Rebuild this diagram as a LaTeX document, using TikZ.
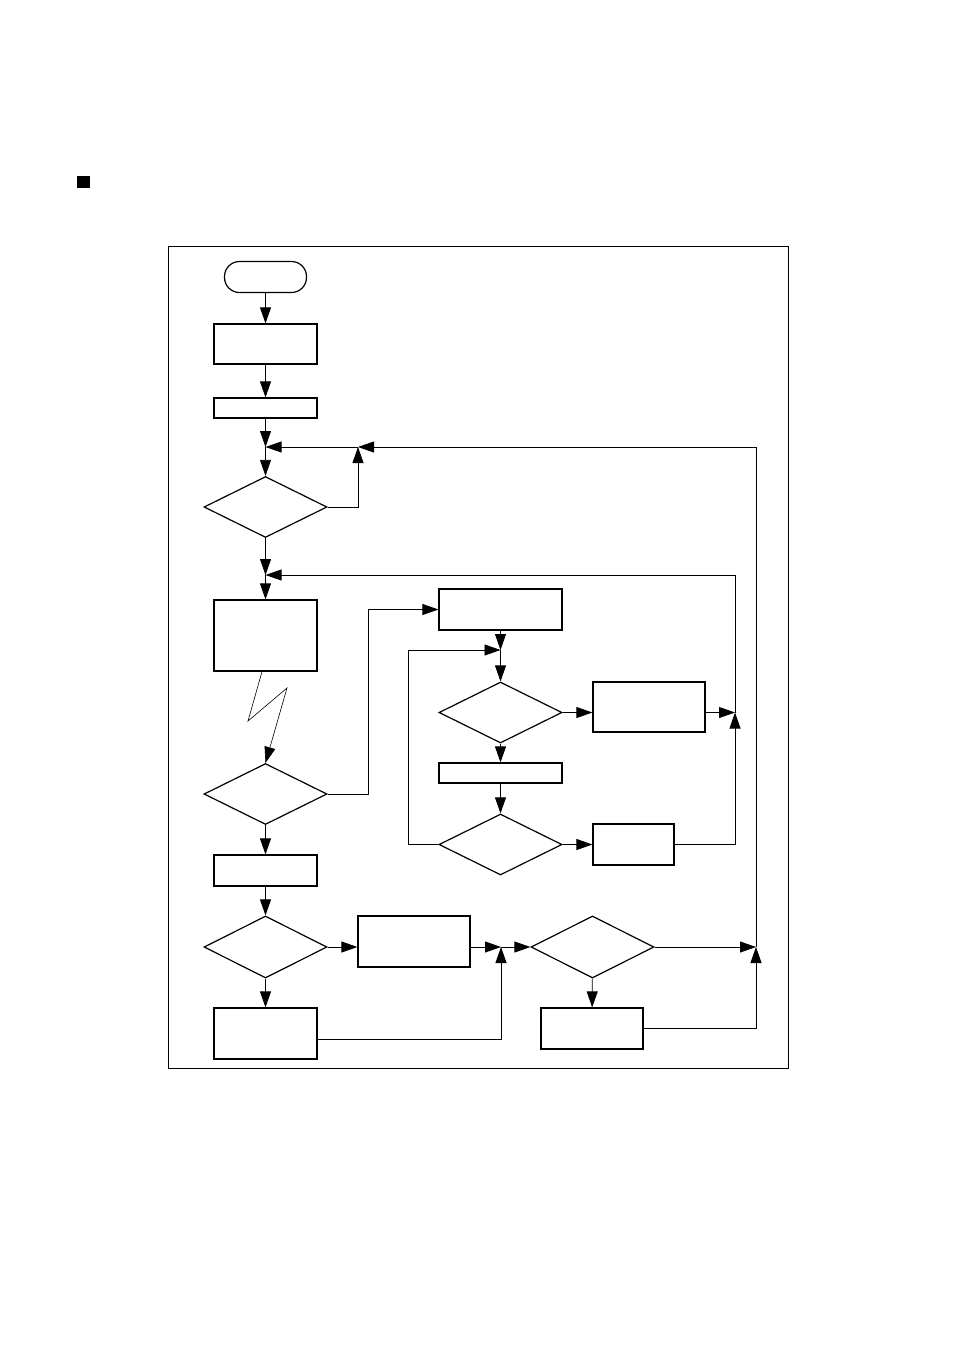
\documentclass[tikz,border=0pt]{standalone}
\usetikzlibrary{shapes.geometric,arrows.meta}
\begin{document}
\begin{tikzpicture}[x=1pt, y=-1pt, >={Triangle[length=16pt,width=11pt]},
    box/.style={draw, line width=1.2pt, inner sep=0pt},
    decision/.style={draw, diamond, line width=1.2pt, inner sep=0pt, minimum width=123pt, minimum height=61pt},
    every path/.style={line width=0.8pt}]
  \useasboundingbox (0,0) rectangle (954,1350);
  \fill (77,176) rectangle (90,188);
  \draw (168,246) rectangle (788,1068);
  \node[box, rounded corners=15pt, minimum width=82pt, minimum height=31pt] (start) at (265.5,277) {};
  \node[box, minimum width=103pt, minimum height=40pt] (init) at (265.5,344) {};
  \node[box, minimum width=103pt, minimum height=20pt] (clear) at (265.5,408) {};
  \node[decision] (wait) at (265.5,507) {};
  \node[box, minimum width=103pt, minimum height=71pt] (task) at (265.5,635.5) {};
  \node[decision] (intr) at (265.5,794) {};
  \node[box, minimum width=123pt, minimum height=41pt] (isr) at (500.5,609.5) {};
  \node[decision] (chka) at (500.5,712.5) {};
  \node[box, minimum width=112pt, minimum height=50pt] (proca) at (649,707) {};
  \node[box, minimum width=123pt, minimum height=20pt] (next) at (500.5,773) {};
  \node[decision] (chkb) at (500.5,844.5) {};
  \node[box, minimum width=81pt, minimum height=41pt] (procb) at (633.5,844.5) {};
  \node[box, minimum width=103pt, minimum height=31pt] (read) at (265.5,870.5) {};
  \node[decision, minimum height=62pt] (chkc) at (265.5,947) {};
  \node[box, minimum width=112pt, minimum height=51pt] (procc) at (414,941.5) {};
  \node[box, minimum width=103pt, minimum height=51pt] (procd) at (265.5,1033.5) {};
  \node[decision, minimum height=62pt] (chkd) at (592.5,947) {};
  \node[box, minimum width=102pt, minimum height=41pt] (proce) at (592,1028.5) {};
  \coordinate (j1) at (265.5,447);
  \coordinate (j2) at (358,447);
  \coordinate (r1) at (756,447);
  \coordinate (j3) at (265.5,575);
  \coordinate (j4) at (500.5,650);
  \coordinate (l2) at (408,844.5);
  \coordinate (j5) at (735,712.5);
  \coordinate (j6) at (501,947);
  \coordinate (j7) at (756,947);
  \coordinate (k1) at (368,794);
  \coordinate (k2) at (501,1039);
  \coordinate (z1) at (248,721);
  \coordinate (z2) at (287,688);
  \draw[->] (start) -- (init);
  \draw[->] (init) -- (clear);
  \draw[->] (clear) -- (j1);
  \draw[->] (j1) -- (wait);
  \draw[->] (wait.east) -| (j2);
  \draw[->] (j2) -- (j1);
  \draw[->] (r1) -- (j2);
  \draw (j7) -- (r1);
  \draw[->] (wait) -- (j3);
  \draw[->] (j3) -- (task);
  \draw[->, line width=0.6pt] ([xshift=-3.5pt]task.south) -- (z1) -- (z2) -- (intr.north);
  \draw[->] (intr.east) -- (k1) |- (isr.west);
  \draw[->] (isr) -- (j4);
  \draw[->] (j4) -- (chka);
  \draw[->] (chka.east) -- (chka.east -| proca.west);
  \draw[->] (j5 -| proca.east) -- (j5);
  \draw[->] (j5) |- (j3);
  \draw[->] (chka) -- (next);
  \draw[->] (next) -- (chkb);
  \draw[->] (chkb) -- (procb);
  \draw[->] (procb.east) -| (j5);
  \draw[->] (chkb.west) -- (l2) |- (j4);
  \draw[->] (intr) -- (read);
  \draw[->] (read) -- (chkc);
  \draw[->] (chkc.east) -- (chkc.east -| procc.west);
  \draw[->] (procc.east |- j6) -- (j6);
  \draw[->] (chkc) -- (procd);
  \draw[->] (k2 -| procd.east) -- (k2) -- (j6);
  \draw[->] (j6) -- (chkd);
  \draw[->] (chkd.east) -- (j7);
  \draw[->] (chkd) -- (proce);
  \draw[->] (proce.east) -| (j7);
\end{tikzpicture}
\end{document}
